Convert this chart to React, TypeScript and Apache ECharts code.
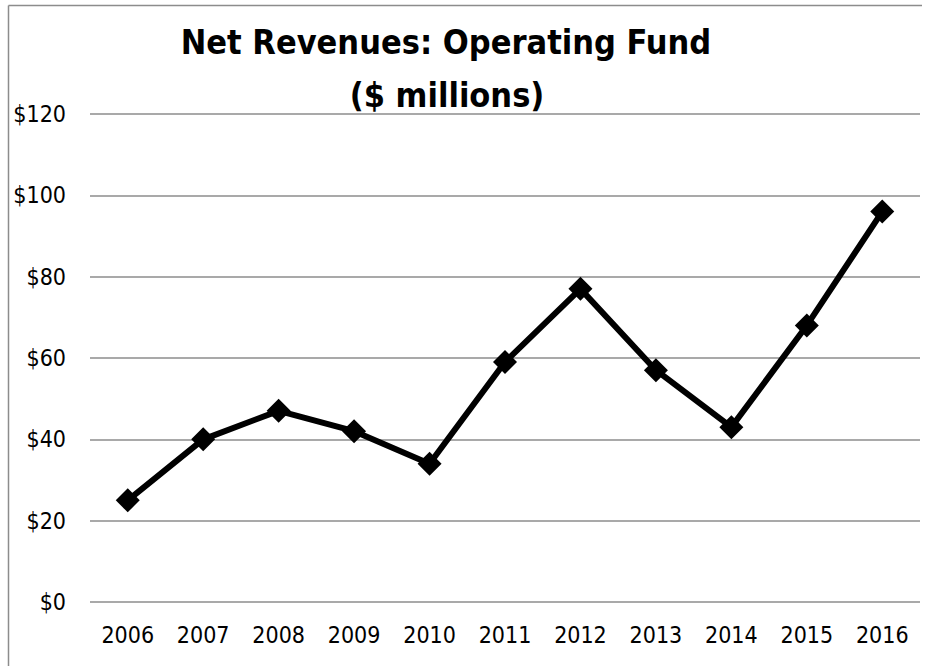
import React, { useEffect, useRef } from "react";
import * as echarts from "echarts";

const years = ["2006", "2007", "2008", "2009", "2010", "2011", "2012", "2013", "2014", "2015", "2016"];
const revenues = [25, 40, 47, 42, 34, 59, 77, 57, 43, 68, 96];
const titleLines = ["Net Revenues: Operating Fund", "($ millions)"];

const FONT = "'DejaVu Sans Condensed', 'Noto Sans', sans-serif";

export default function App() {
  const ref = useRef<HTMLDivElement>(null);
  useEffect(() => {
    document.body.style.margin = "0";
    const chart = echarts.init(ref.current!, null, { renderer: "svg" });
    chart.setOption({
      animation: false,
      backgroundColor: "#ffffff",
      graphic: [
        { type: "line", shape: { x1: 8.5, y1: 5.5, x2: 922, y2: 5.5 }, style: { stroke: "#8c8c8c", lineWidth: 1.5 } },
        { type: "line", shape: { x1: 8.5, y1: 5.5, x2: 8.5, y2: 666 }, style: { stroke: "#8c8c8c", lineWidth: 1.5 } },
        {
          type: "text", x: 446, y: 42,
          style: { text: titleLines[0], font: `bold 34px ${FONT}`, fill: "#000", align: "center", verticalAlign: "middle" },
        },
        {
          type: "text", x: 447, y: 95,
          style: { text: titleLines[1], font: `bold 34px ${FONT}`, fill: "#000", align: "center", verticalAlign: "middle" },
        },
      ],
      grid: { left: 90, right: 11, top: 114, bottom: 64, containLabel: false },
      xAxis: {
        type: "category",
        data: years,
        boundaryGap: true,
        axisLine: { show: false },
        axisTick: { show: false },
        axisLabel: { color: "#000", fontSize: 23, fontFamily: FONT, margin: 21 },
      },
      yAxis: {
        type: "value",
        min: 0, max: 120, interval: 20,
        axisLine: { show: false },
        axisTick: { show: false },
        splitLine: { lineStyle: { color: "#8c8c8c", width: 1.5 } },
        axisLabel: { color: "#000", fontSize: 23, fontFamily: FONT, margin: 24, formatter: (v: number) => "$" + v },
      },
      series: [
        {
          type: "line",
          data: revenues,
          lineStyle: { color: "#000", width: 6 },
          itemStyle: { color: "#000" },
          symbol: "diamond",
          symbolSize: 24,
          showSymbol: true,
        },
      ],
    });
    return () => chart.dispose();
  }, []);
  return <div ref={ref} style={{ width: 931, height: 666 }} />;
}
